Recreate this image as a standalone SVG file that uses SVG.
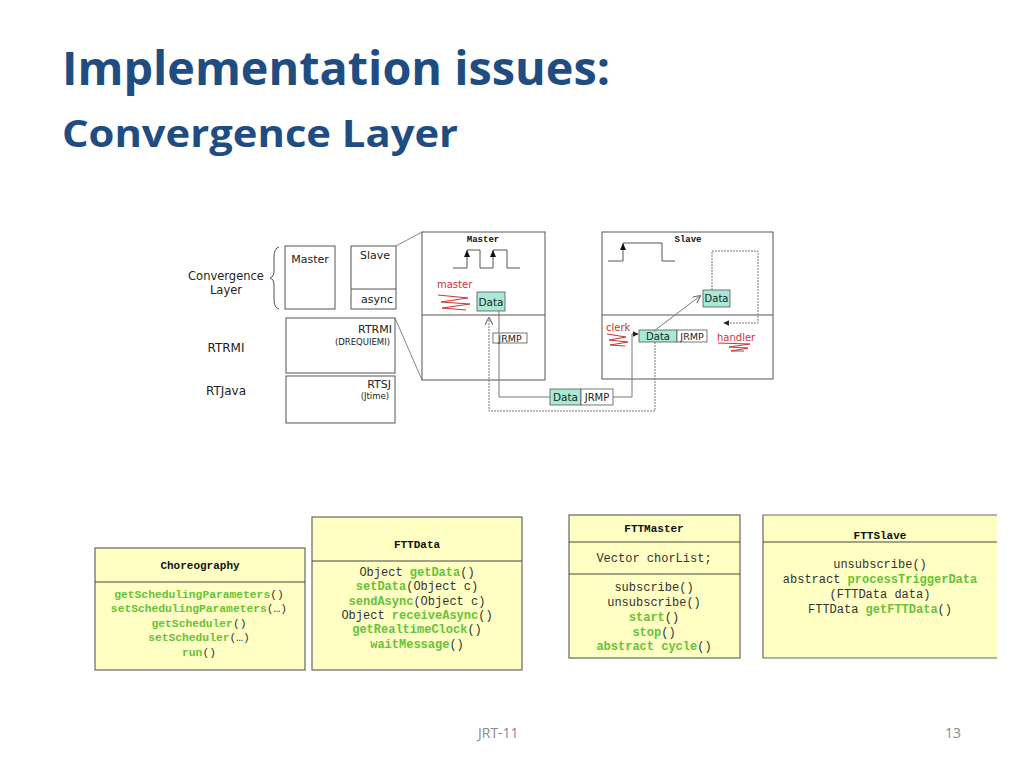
<svg xmlns="http://www.w3.org/2000/svg" width="1024" height="768" viewBox="0 0 1024 768">
<style>
.title{font-family:"Open Sans","Liberation Sans",sans-serif;font-weight:bold;fill:#1F4D82}
.foot{font-family:"Open Sans","Liberation Sans",sans-serif;font-size:14px;fill:#8a8a8a}
.v{font-family:"DejaVu Sans",Verdana,sans-serif;fill:#222}
.box{fill:#fff;stroke:#555;stroke-width:1}
.thin{fill:none;stroke:#555;stroke-width:1}
.data{fill:#A8EAD3;stroke:#555;stroke-width:0.8}
.jrmp{fill:#fff;stroke:#555;stroke-width:0.8}
.red{font-family:"DejaVu Sans",Verdana,sans-serif;font-size:10px;fill:#CC3333}
.sq{fill:none;stroke:#CC3333;stroke-width:1}
.dot{fill:none;stroke:#777;stroke-width:1;stroke-dasharray:2 1}
.sol{fill:none;stroke:#777;stroke-width:1}
.mono{font-family:"Liberation Mono","Courier New",monospace;fill:#333;text-anchor:middle}
.hdr{font-weight:bold;fill:#111}
.g{fill:#66C23A;font-weight:bold}
.cls{fill:#FFFFC4;stroke:#666;stroke-width:1.2}
.div{stroke:#444;stroke-width:1}
</style>
<defs>
<marker id="open" viewBox="0 0 10 10" refX="9" refY="5" markerWidth="8" markerHeight="8" orient="auto-start-reverse" markerUnits="userSpaceOnUse"><path d="M0,0 L10,5 L0,10" fill="none" stroke="#777" stroke-width="1.5"/></marker>
<marker id="fill" viewBox="0 0 10 10" refX="9" refY="5" markerWidth="6" markerHeight="6" orient="auto" markerUnits="userSpaceOnUse"><path d="M0,0 L10,5 L0,10 Z" fill="#222"/></marker>
</defs>
<rect width="1024" height="768" fill="#fff"/>

<g id="title">
<text class="title" x="62" y="85" font-size="46" textLength="548" lengthAdjust="spacingAndGlyphs">Implementation issues:</text>
<text class="title" x="62" y="147" font-size="38" textLength="396" lengthAdjust="spacingAndGlyphs">Convergence Layer</text>
</g>

<g id="layers">
<path class="thin" d="M279,247 Q274,248 274,258 L274,272 Q274,277 270,278 Q274,279 274,284 L274,299 Q274,308 279,309" stroke="#777"/>
<text class="v" x="226" y="280" font-size="11.5" text-anchor="middle">Convergence</text>
<text class="v" x="226" y="294" font-size="11.5" text-anchor="middle">Layer</text>
<text class="v" x="226" y="352" font-size="12" text-anchor="middle">RTRMI</text>
<text class="v" x="226" y="395" font-size="12" text-anchor="middle">RTJava</text>
</g>
<g id="cl-master">
<rect class="box" x="285" y="246" width="50" height="63"/>
<text class="v" x="310" y="263" font-size="11" text-anchor="middle">Master</text>
</g>
<g id="cl-slave">
<rect class="box" x="351" y="246" width="45" height="63"/>
<line class="thin" x1="351" y1="289" x2="396" y2="289"/>
<text class="v" x="375" y="259" font-size="11" text-anchor="middle">Slave</text>
<text class="v" x="377" y="303" font-size="11" text-anchor="middle">async</text>
</g>
<g id="rtrmi">
<rect class="box" x="286" y="318" width="109" height="55"/>
<text class="v" x="392" y="333" font-size="11" text-anchor="end">RTRMI</text>
<text class="v" x="390" y="345" font-size="8.5" text-anchor="end">(DREQUIEMI)</text>
</g>
<g id="rtsj">
<rect class="box" x="286" y="376" width="109" height="47"/>
<text class="v" x="391" y="388" font-size="11" text-anchor="end">RTSJ</text>
<text class="v" x="389" y="399" font-size="8.5" text-anchor="end">(Jtime)</text>
</g>

<g id="master-node">
<rect class="box" x="422" y="232" width="123" height="148"/>
<line class="thin" x1="422" y1="315" x2="545" y2="315"/>
<text class="mono hdr" x="483" y="242" font-size="9">Master</text>
<path class="thin" d="M453,268 H467 V250 H480 V268 H493 V250 H507 V268 H520"/>
<polygon points="464,257 470,257 467,250" fill="#111"/>
<polygon points="490,257 496,257 493,250" fill="#111"/>
<text class="red" x="437" y="288">master</text>
<path class="sq" d="M438,295 L468,298 L441,302 L470,304 L442,308 L466,310"/>
<rect class="data" x="477" y="292" width="28" height="19"/>
<text class="v" x="491" y="306" font-size="10.5" text-anchor="middle">Data</text>
<rect class="jrmp" x="493" y="333" width="34" height="10"/>
<text class="v" x="510" y="342" font-size="9.5" text-anchor="middle">JRMP</text>
</g>

<g id="slave-node">
<rect class="box" x="602" y="232" width="171" height="147"/>
<line class="thin" x1="602" y1="315" x2="773" y2="315"/>
<text class="mono hdr" x="688" y="242" font-size="9">Slave</text>
<path class="thin" d="M608,261 H623 V243 H662 V261 H675"/>
<polygon points="620,250 626,250 623,243" fill="#111"/>
<rect class="data" x="703" y="290" width="27" height="17"/>
<text class="v" x="716.5" y="302" font-size="10" text-anchor="middle">Data</text>
<rect class="data" x="639" y="330" width="38" height="12"/>
<text class="v" x="658" y="340" font-size="10" text-anchor="middle">Data</text>
<rect class="jrmp" x="677" y="330" width="30" height="12"/>
<text class="v" x="692" y="340" font-size="9.5" text-anchor="middle">JRMP</text>
<text class="red" x="606" y="331">clerk</text>
<path class="sq" d="M607,334 L626,337 L609,340 L628,342 L610,345 L625,346"/>
<text class="red" x="717" y="341">handler</text>
<path class="sq" d="M718,343 L750,344 L729,347 L748,348 L731,351 L744,351"/>
</g>

<g id="wire-msg">
<rect class="data" x="550" y="389" width="31" height="16"/>
<text class="v" x="565.5" y="401" font-size="10.5" text-anchor="middle">Data</text>
<rect class="jrmp" x="581" y="389" width="32" height="16"/>
<text class="v" x="597" y="401" font-size="10" text-anchor="middle">JRMP</text>
</g>

<g id="connectors">
<line x1="396" y1="246" x2="422" y2="232" stroke="#666" stroke-width="0.8"/>
<line x1="395" y1="318" x2="422" y2="380" stroke="#666" stroke-width="0.8"/>
<path class="sol" d="M499,311 V397 H550"/>
<path class="sol" d="M613,397 H632 V334 H638" marker-end="url(#fill)"/>
<path class="dot" d="M655,342 V411 H489 V318" marker-end="url(#open)"/>
<line class="sol" x1="654" y1="331" x2="700" y2="296" marker-end="url(#open)"/>
<path class="dot" d="M712,290 V251 H758 V323 H724" marker-end="url(#fill)"/>
</g>

<g id="choreography">
<rect class="cls" x="95" y="548" width="210" height="122"/>
<line class="div" x1="95" y1="582" x2="305" y2="582"/>
<text class="mono hdr" x="200" y="569" font-size="11">Choreography</text>
<text class="mono" x="199" y="598" font-size="11.3"><tspan class="g">getSchedulingParameters</tspan>()</text>
<text class="mono" x="199" y="612" font-size="11.3"><tspan class="g">setSchedulingParameters</tspan>(…)</text>
<text class="mono" x="199" y="627" font-size="11.3"><tspan class="g">getScheduler</tspan>()</text>
<text class="mono" x="199" y="641" font-size="11.3"><tspan class="g">setScheduler</tspan>(…)</text>
<text class="mono" x="199" y="656" font-size="11.3"><tspan class="g">run</tspan>()</text>
</g>

<g id="fttdata">
<rect class="cls" x="312" y="517" width="210" height="153"/>
<line class="div" x1="312" y1="561" x2="522" y2="561"/>
<text class="mono hdr" x="417" y="548" font-size="11">FTTData</text>
<text class="mono" x="417" y="576" font-size="12">Object <tspan class="g">getData</tspan>()</text>
<text class="mono" x="417" y="590" font-size="12"><tspan class="g">setData</tspan>(Object c)</text>
<text class="mono" x="417" y="605" font-size="12"><tspan class="g">sendAsync</tspan>(Object c)</text>
<text class="mono" x="417" y="619" font-size="12">Object <tspan class="g">receiveAsync</tspan>()</text>
<text class="mono" x="417" y="633" font-size="12"><tspan class="g">getRealtimeClock</tspan>()</text>
<text class="mono" x="417" y="648" font-size="12"><tspan class="g">waitMessage</tspan>()</text>
</g>

<g id="fttmaster">
<rect class="cls" x="569" y="515" width="171" height="143"/>
<line class="div" x1="569" y1="542" x2="740" y2="542"/>
<line class="div" x1="569" y1="574" x2="740" y2="574"/>
<text class="mono hdr" x="654" y="532" font-size="11">FTTMaster</text>
<text class="mono" x="654" y="562" font-size="12">Vector chorList;</text>
<text class="mono" x="654" y="591" font-size="12">subscribe()</text>
<text class="mono" x="654" y="606" font-size="12">unsubscribe()</text>
<text class="mono" x="654" y="621" font-size="12"><tspan class="g">start</tspan>()</text>
<text class="mono" x="654" y="636" font-size="12"><tspan class="g">stop</tspan>()</text>
<text class="mono" x="654" y="650" font-size="12"><tspan class="g">abstract cycle</tspan>()</text>
</g>

<g id="fttslave">
<path d="M997,515 H763 V658 H997" fill="#FFFFC4" stroke="#666" stroke-width="1.2"/>
<rect x="764" y="516" width="233" height="141" fill="#FFFFC4"/>
<line class="div" x1="763" y1="542" x2="997" y2="542"/>
<text class="mono hdr" x="880" y="539" font-size="11">FTTSlave</text>
<text class="mono" x="880" y="568" font-size="12">unsubscribe()</text>
<text class="mono" x="880" y="583" font-size="12">abstract <tspan class="g">processTriggerData</tspan></text>
<text class="mono" x="880" y="598" font-size="12">(FTTData data)</text>
<text class="mono" x="880" y="613" font-size="12">FTTData <tspan class="g">getFTTData</tspan>()</text>
</g>

<g id="footer">
<text class="foot" x="478" y="738">JRT-11</text>
<text class="foot" x="961" y="738" text-anchor="end">13</text>
</g>
</svg>
